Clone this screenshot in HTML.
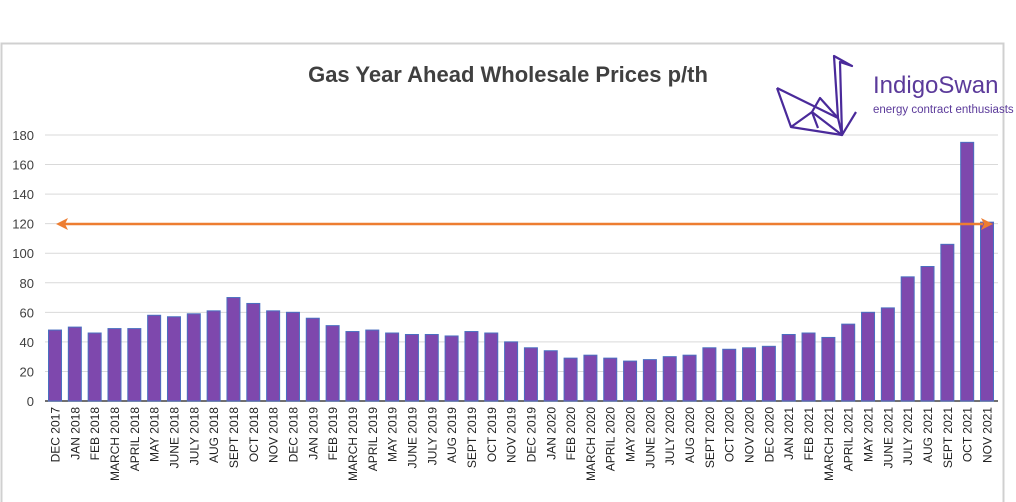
<!DOCTYPE html>
<html><head><meta charset="utf-8"><style>
body{margin:0;background:#fff;}
svg{display:block;font-family:"Liberation Sans",sans-serif;}
</style></head><body>
<svg width="1016" height="502" viewBox="0 0 1016 502">
<rect x="0" y="0" width="1016" height="502" fill="#fff"/>
<rect x="1.5" y="43.5" width="1002" height="470" fill="#fff" stroke="#d0d0d0" stroke-width="2"/>
<text x="508" y="82" text-anchor="middle" font-size="22" font-weight="bold" fill="#404040">Gas Year Ahead Wholesale Prices p/th</text>
<g id="grid"></g>
<g id="bars"></g>
<g id="labels"></g>
<g stroke="#4a2a9a" stroke-width="2.2" fill="none" stroke-linejoin="round">
<polyline points="777,88 838,118 842,135 791,127 777,88"/>
<polyline points="838,118 834,56 852,66 840,62 842,135"/>
<polyline points="791,127 812,112 842,135 856,112"/>
<polyline points="812,112 820,98 838,118"/>
<polyline points="812,112 818,128"/>
</g>
<text x="873" y="93" font-size="24" fill="#5b3a9a">IndigoSwan</text>
<text x="873" y="113" font-size="11.5" fill="#5b3a9a">energy contract enthusiasts</text>
<line x1="65" y1="224" x2="983" y2="224" stroke="#ed7d31" stroke-width="2.5"/>
<polygon points="56,224 68,218 65,224 68,230" fill="#ed7d31"/>
<polygon points="993,224 981,218 984,224 981,230" fill="#ed7d31"/>
<script>
var v=[48,50,46,49,49,58,57,59,61,70,66,61,60,56,51,47,48,46,45,45,44,47,46,40,36,34,29,31,29,27,28,30,31,36,35,36,37,45,46,43,52,60,63,84,91,106,175,121];
var n=["DEC 2017","JAN 2018","FEB 2018","MARCH 2018","APRIL 2018","MAY 2018","JUNE 2018","JULY 2018","AUG 2018","SEPT 2018","OCT 2018","NOV 2018","DEC 2018","JAN 2019","FEB 2019","MARCH 2019","APRIL 2019","MAY 2019","JUNE 2019","JULY 2019","AUG 2019","SEPT 2019","OCT 2019","NOV 2019","DEC 2019","JAN 2020","FEB 2020","MARCH 2020","APRIL 2020","MAY 2020","JUNE 2020","JULY 2020","AUG 2020","SEPT 2020","OCT 2020","NOV 2020","DEC 2020","JAN 2021","FEB 2021","MARCH 2021","APRIL 2021","MAY 2021","JUNE 2021","JULY 2021","AUG 2021","SEPT 2021","OCT 2021","NOV 2021"];
var NS="http://www.w3.org/2000/svg",s=1.478,y0=401;
function el(t,a,p,txt){var e=document.createElementNS(NS,t);for(var k in a)e.setAttribute(k,a[k]);if(txt)e.textContent=txt;document.getElementById(p).appendChild(e);}
for(var i=0;i<=9;i++){var y=y0-i*20*s;el("line",{x1:45,x2:998,y1:y,y2:y,stroke:i?"#d9d9d9":"#404040","stroke-width":i?1:1.5},"grid");el("text",{x:34,y:y+5,"text-anchor":"end","font-size":13,fill:"#404040"},"grid",""+i*20);}
for(var i=0;i<48;i++){var c=55+i*19.83,h=v[i]*s;el("rect",{x:c-6.5,y:y0-h,width:13,height:h,fill:"#7e48ad",stroke:"#4a6fc0","stroke-width":1},"bars");
el("text",{transform:"translate("+(c+4.5)+",407) rotate(-90)","text-anchor":"end","font-size":12,fill:"#222"},"labels",n[i]);}
</script>
</svg>
</body></html>
